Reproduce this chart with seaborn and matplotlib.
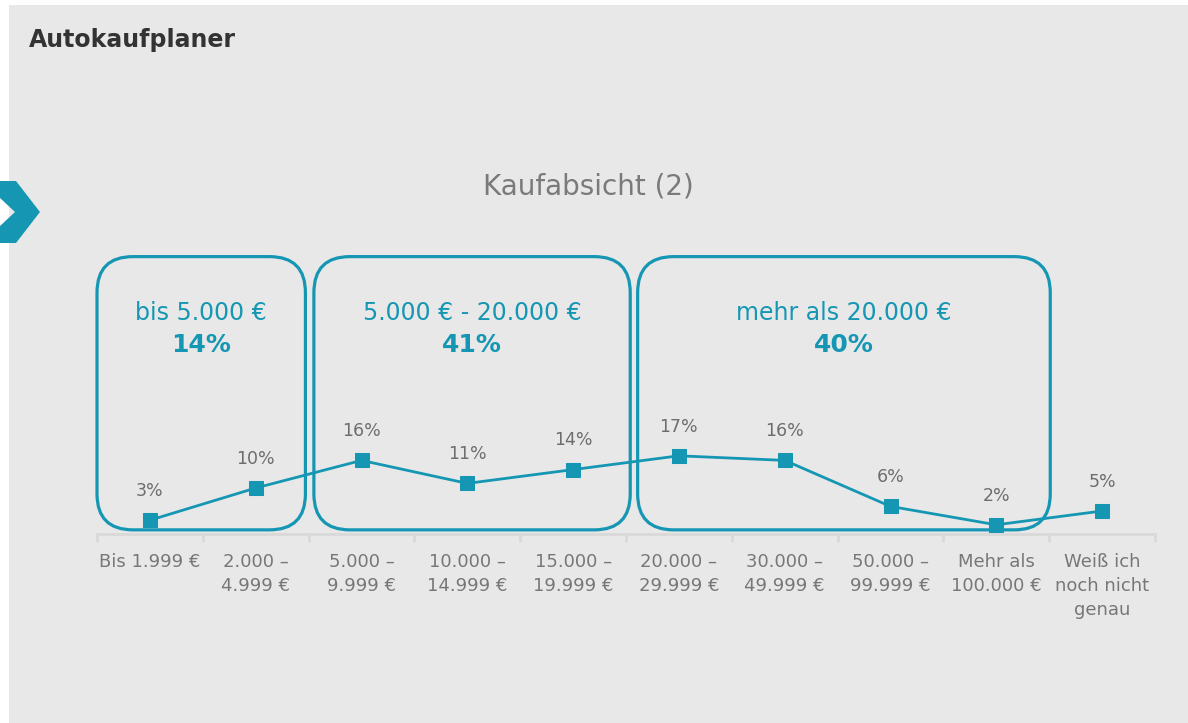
import matplotlib
matplotlib.use("Agg")
import matplotlib.pyplot as plt
from matplotlib.patches import FancyBboxPatch, Polygon, Rectangle
import seaborn as sns
import pandas as pd

# data
kategorien = ["Bis 1.999 €", "2.000 –\n4.999 €", "5.000 –\n9.999 €", "10.000 –\n14.999 €",
              "15.000 –\n19.999 €", "20.000 –\n29.999 €", "30.000 –\n49.999 €",
              "50.000 –\n99.999 €", "Mehr als\n100.000 €", "Weiß ich\nnoch nicht\ngenau"]
anteile = [3, 10, 16, 11, 14, 17, 16, 6, 2, 5]

gruppen_namen = ["bis 5.000 €", "5.000 € - 20.000 €", "mehr als 20.000 €"]
gruppen_werte = ["14%", "41%", "40%"]
gruppen_start = [0, 2, 5]
gruppen_ende = [1, 4, 8]

TEAL = "#1597b4"
W, H = 1188, 723

df = pd.DataFrame({"pos": range(len(kategorien)), "anteil": anteile})

sns.set_style("white")
plt.rcParams["font.family"] = ["DejaVu Sans"]

fig = plt.figure(figsize=(W / 100, H / 100), dpi=100, facecolor="white")

# grey panel + chevron
fig.patches.append(Rectangle((9 / W, 0), 1 - 9 / W, 1 - 5 / H, transform=fig.transFigure,
                             facecolor="#e8e8e8", edgecolor="none", zorder=-2))
chev = [(0, 181), (16, 181), (40, 212), (16, 243), (0, 243), (0, 226), (15, 212), (0, 198)]
fig.patches.append(Polygon([(x / W, 1 - y / H) for x, y in chev], closed=True,
                           transform=fig.transFigure, facecolor=TEAL, edgecolor="none",
                           zorder=-1))

fig.text(29 / W, 1 - 40 / H, "Autokaufplaner", fontsize=17, fontweight="bold",
         color="#333333", ha="left", va="center")
fig.text(588 / W, 1 - 187 / H, "Kaufabsicht (2)", fontsize=20, color="#7a7a7a",
         ha="center", va="center")

ymax = 61
ax = fig.add_axes([97 / W, (H - 534) / H, (1155 - 97) / W, ymax * 4.6 / H])
ax.patch.set_alpha(0)

sns.lineplot(data=df, x="pos", y="anteil", ax=ax, color=TEAL, linewidth=2.0,
             marker="s", markersize=10, markeredgecolor=TEAL, zorder=5)

for i, v in enumerate(anteile):
    ax.annotate(f"{v}%", (i, v), xytext=(0, 21), textcoords="offset points",
                ha="center", va="center", fontsize=12.5, color="#6d6d6d")

ax.set_xlim(-0.5, len(kategorien) - 0.5)
ax.set_ylim(0, ymax)
ax.set_xlabel("")
ax.set_ylabel("")
ax.set_yticks([])
ax.set_xticks(range(len(kategorien)))
ax.set_xticklabels(kategorien, fontsize=13, color="#777777", linespacing=1.42)
ax.set_xticks([i - 0.5 for i in range(len(kategorien) + 1)], minor=True)
ax.tick_params(axis="x", which="major", length=0, pad=14)
ax.tick_params(axis="x", which="minor", bottom=True, length=6, width=2,
               color="#d9d9d9", direction="out")
for s in ["top", "left", "right"]:
    ax.spines[s].set_visible(False)
ax.spines["bottom"].set_color("#d9d9d9")
ax.spines["bottom"].set_linewidth(2)

# rounded group boxes
fig.canvas.draw()
p0 = ax.transData.transform((0, 0))
p1 = ax.transData.transform((1, 1))
asp = (p1[0] - p0[0]) / (p1[1] - p0[1])
r = 36 / (p1[0] - p0[0])
pads = [(0.5, 0.47), (0.45, 0.54), (0.39, 0.51)]
for name, wert, a, b, (pl, pr) in zip(gruppen_namen, gruppen_werte, gruppen_start, gruppen_ende, pads):
    x0, x1 = a - pl, b + pr
    box = FancyBboxPatch((x0, 0.9), x1 - x0, 59.4,
                         boxstyle=f"round,pad=0,rounding_size={r}", mutation_aspect=asp,
                         facecolor="none", edgecolor=TEAL, linewidth=2.3, clip_on=False, zorder=4)
    ax.add_patch(box)
    xc = (x0 + x1) / 2
    ax.text(xc, 48.0, name, ha="center", va="center", fontsize=17, color=TEAL)
    ax.text(xc, 41.1, wert, ha="center", va="center", fontsize=18, fontweight="bold", color=TEAL)

fig.savefig("out.png", dpi=100, facecolor=fig.get_facecolor())
